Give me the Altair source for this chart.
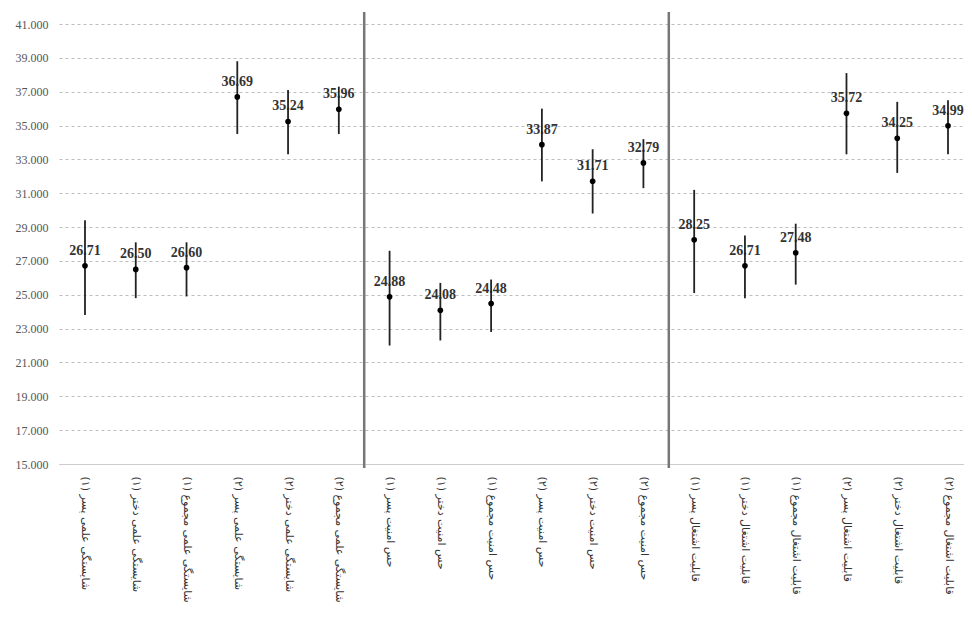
import json
import altair as alt
import pandas as pd

groups = ["شایستگی علمی", "حس امنیت", "قابلیت اشتغال"]
subgroups = ["پسر", "دختر", "مجموع"]
phases = ["(۱)", "(۲)"]
categories = [f"{g} {s} {p}" for g in groups for p in phases for s in subgroups]

means = [26.71, 26.50, 26.60, 36.69, 35.24, 35.96,
         24.88, 24.08, 24.48, 33.87, 31.71, 32.79,
         28.25, 26.71, 27.48, 35.72, 34.25, 34.99]
lower = [23.8, 24.8, 24.9, 34.5, 33.3, 34.5,
         22.0, 22.3, 22.8, 31.7, 29.8, 31.3,
         25.1, 24.8, 25.6, 33.3, 32.2, 33.3]
upper = [29.4, 28.1, 28.1, 38.8, 37.1, 37.3,
         27.6, 25.7, 25.9, 36.0, 33.6, 34.2,
         31.2, 28.5, 29.2, 38.1, 36.4, 36.5]
separators = [5.5, 11.5]
y_ticks = list(range(15, 42, 2))

df = pd.DataFrame({
    "idx": list(range(len(categories))),
    "cat": categories,
    "mean": means,
    "lower": lower,
    "upper": upper,
})
sep_df = pd.DataFrame({"idx": separators})

label_expr = json.dumps(categories, ensure_ascii=False) + "[datum.value]"

x_enc = alt.X(
    "idx:Q",
    scale=alt.Scale(domain=[-0.512, 17.315], nice=False, zero=False),
    axis=alt.Axis(
        values=list(range(len(categories))),
        labelExpr=label_expr,
        labelAngle=90,
        labelAlign="left",
        labelBaseline="middle",
        ticks=False,
        grid=False,
        title=None,
        labelFont="DejaVu Sans",
        labelFontSize=11,
        labelColor="#333",
        labelPadding=12,
        labelOverlap=False,
        labelFlush=False,
        labelBound=False,
        labelLimit=130,
        domainColor="#cccccc",
    ),
)

y_scale = alt.Scale(domain=[15, 41], nice=False, zero=False)
y_axis = alt.Axis(
    values=y_ticks,
    format=".3f",
    title=None,
    ticks=False,
    domain=False,
    grid=True,
    gridDash=[3, 3],
    gridColor="#bdbdbd",
    labelFont="Liberation Serif",
    labelFontSize=12,
    labelColor="#555",
    labelPadding=11,
)

base = alt.Chart(df)

texts = base.mark_text(
    font="Liberation Serif", fontWeight="bold", fontSize=14, color="#333", dy=-15
).encode(
    x=x_enc,
    y=alt.Y("mean:Q", scale=y_scale, axis=y_axis),
    text=alt.Text("mean:Q", format=".2f"),
)

bars = base.mark_rule(color="#222", strokeWidth=1.8).encode(
    x=x_enc,
    y=alt.Y("lower:Q", scale=y_scale, axis=y_axis),
    y2="upper:Q",
)

points = base.mark_circle(color="black", size=32, opacity=1).encode(
    x=x_enc,
    y=alt.Y("mean:Q", scale=y_scale, axis=y_axis),
)

seps = alt.Chart(sep_df).mark_rule(color="#777", strokeWidth=2.5).encode(
    x=x_enc,
    y=alt.value(-12),
    y2=alt.value(444),
)

chart = alt.layer(texts, bars, points, seps).properties(
    width=905,
    height=440,
    autosize=alt.AutoSizeParams(type="none"),
    padding={"left": 51, "top": 16, "right": 0, "bottom": 140},
).configure_view(stroke=None)

chart.save("out.html", embed_options={"renderer": "svg", "actions": False})
